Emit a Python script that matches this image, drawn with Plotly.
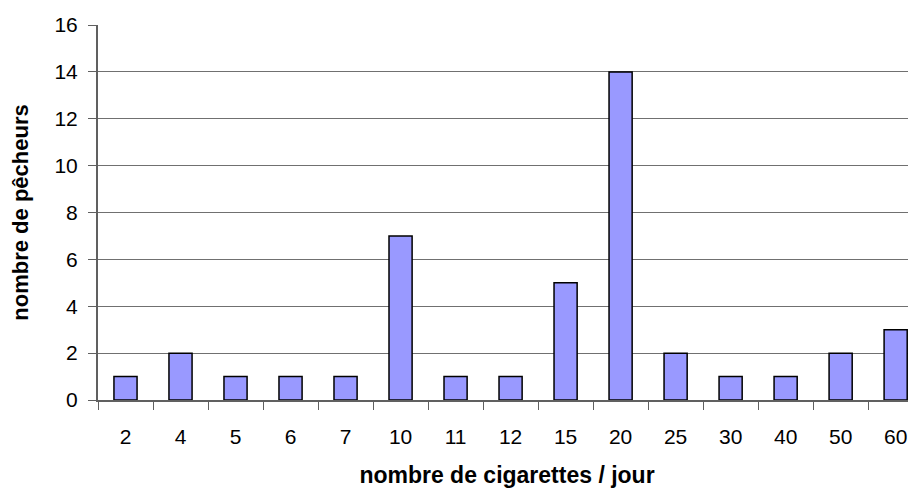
import plotly.graph_objects as go

# cigarettes per day vs number of fishermen
cigarettes = ["2", "4", "5", "6", "7", "10", "11", "12", "15", "20", "25", "30", "40", "50", "60"]
pecheurs = [1, 2, 1, 1, 1, 7, 1, 1, 5, 14, 2, 1, 1, 2, 3]

FONT = "Liberation Sans, Arial, sans-serif"

fig = go.Figure()
fig.add_trace(go.Bar(
    x=cigarettes,
    y=pecheurs,
    width=0.42,
    marker=dict(color="#9999FF", line=dict(color="#000000", width=1.5)),
    hovertemplate="%{x} cig./jour<br>%{y} pêcheurs<extra></extra>",
))

# page body has an 8px margin, so the figure is a bit smaller than the window;
# the original plot area runs past the right edge, hence the clipped x range
fig.update_layout(
    width=908,
    height=481,
    margin=dict(l=90, r=0, t=17, b=89),
    paper_bgcolor="white",
    plot_bgcolor="white",
    showlegend=False,
    font=dict(family=FONT, size=20, color="#000000"),
    xaxis=dict(
        type="category",
        range=[-0.5, 14.37],
        automargin=False,
        tickson="boundaries",
        ticks="outside",
        ticklen=8,
        tickcolor="#606060",
        tickfont=dict(size=21),
        ticklabelstandoff=17,
        showline=True,
        linecolor="#606060",
        linewidth=2,
        showgrid=False,
        title=dict(text="<b>nombre de cigarettes / jour</b>", standoff=20,
                   font=dict(size=23)),
    ),
    yaxis=dict(
        range=[0, 16],
        dtick=2,
        automargin=False,
        ticks="outside",
        ticklen=8,
        tickcolor="#606060",
        tickfont=dict(size=21),
        ticklabelstandoff=6,
        showline=True,
        linecolor="#606060",
        linewidth=2,
        showgrid=True,
        gridcolor="#707070",
        gridwidth=1,
        zeroline=False,
        title=dict(text="<b>nombre de pêcheurs</b>", standoff=20,
                   font=dict(size=22)),
    ),
)

fig.write_html("out.html")
